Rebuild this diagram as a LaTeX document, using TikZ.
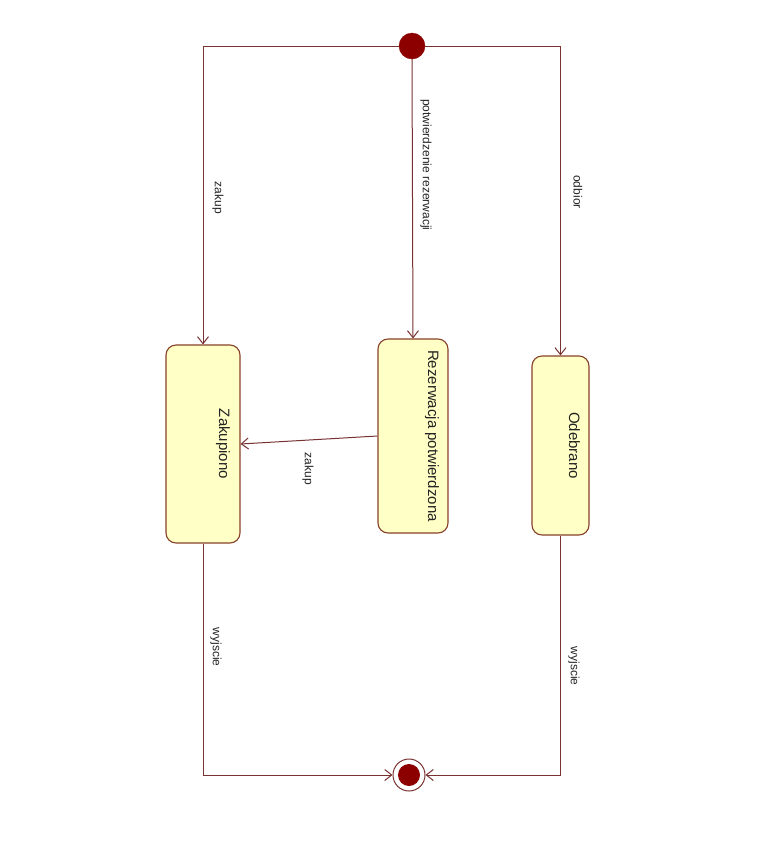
\documentclass[tikz,border=0pt]{standalone}
\usepackage{fontspec}
\setmainfont{Liberation Sans}
\usetikzlibrary{positioning,arrows.meta}
\definecolor{linecol}{RGB}{120,50,50}
\definecolor{boxdraw}{RGB}{135,65,40}
\definecolor{boxfill}{RGB}{255,255,198}
\definecolor{dotfill}{RGB}{140,0,0}
\definecolor{textcol}{RGB}{35,35,35}

\begin{document}
\begin{tikzpicture}[x=1pt, y=-1pt, >={Straight Barb[length=7pt,width=11pt]},
    trans/.style={draw=linecol, line width=1pt},
    state/.style={draw=boxdraw, fill=boxfill, rounded corners=10pt, line width=1.1pt, inner sep=0pt},
    statename/.style={rotate=-90, text=textcol, font=\fontsize{15}{18}\selectfont},
    lbl/.style={rotate=-90, text=textcol, font=\fontsize{12}{14}\selectfont}]
    \useasboundingbox (0,0) rectangle (758,841);

    % states
    \node[state, minimum width=74pt, minimum height=198pt] (zak) at (203,444) {};
    \node[state, minimum width=70pt, minimum height=194pt] (rez) at (413,436) {};
    \node[state, minimum width=57pt, minimum height=179pt] (odb) at (560.5,445.5) {};
    \node[statename] (zakname) at ([xshift=20pt]zak.center) {Zakupiono};
    \node[statename] (rezname) at ([xshift=19pt]rez.center) {Rezerwacja potwierdzona};
    \node[statename] (odbname) at ([xshift=14pt]odb.center) {Odebrano};

    % start and end
    \node[circle, fill=dotfill, draw=dotfill, minimum size=26pt, inner sep=0pt] (start) at (412,46) {};
    \node[circle, fill=white, draw=linecol, line width=1pt, minimum size=32pt, inner sep=0pt] (end) at (409,775) {};
    \node[circle, fill=dotfill, minimum size=22pt, inner sep=0pt] (endin) at (end) {};

    % transitions
    \draw[trans, ->] (start.west) -- (zak.north |- start) -- (zak.north);
    \draw[trans, ->] (start.south) -- (rez.north);
    \draw[trans, ->] (start.east) -- (odb.north |- start) -- (odb.north);
    \draw[trans, ->] (rez.west) -- (zak.east);
    \draw[trans, ->] (zak.south) -- (zak.south |- end) -- (end.west);
    \draw[trans, ->] (odb.south) -- (odb.south |- end) -- (end.east);

    \node[lbl] (l1) at (218,198) {zakup};
    \node[lbl] (l2) at (426,165) {potwierdzenie rezerwacji};
    \node[lbl] (l3) at (578,192) {odbior};
    \node[lbl] (l4) at (308,469) {zakup};
    \node[lbl] (l5) at (216,647) {wyjscie};
    \node[lbl] (l6) at (574,666) {wyjscie};
\end{tikzpicture}
\end{document}
